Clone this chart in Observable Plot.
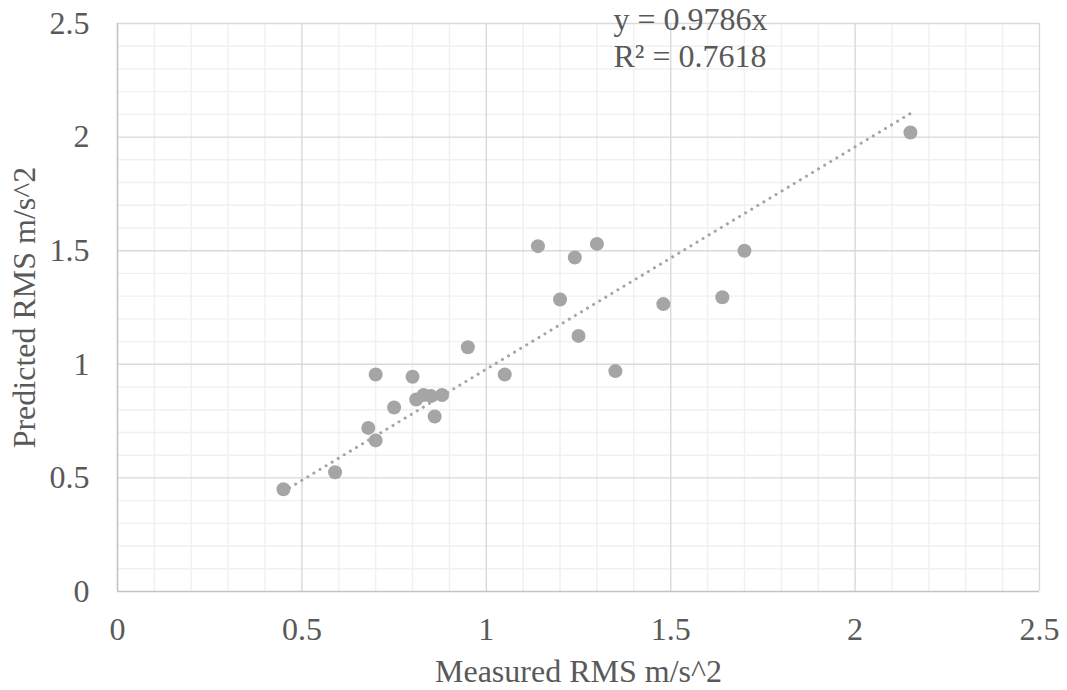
<!DOCTYPE html>
<html>
<head>
<meta charset="utf-8">
<script src="https://cdn.jsdelivr.net/npm/d3@7"></script>
<script src="https://cdn.jsdelivr.net/npm/@observablehq/plot@0.6"></script>
<style>
  html, body { margin: 0; padding: 0; background: #fff; }
  #chart { width: 1067px; height: 690px; }
  #chart svg text { font-family: 'Liberation Serif', 'Times New Roman', serif !important; font-variant-numeric: normal !important; }
</style>
</head>
<body>
<div id="chart"></div>
<script>
// Data
const measured  = [0.45, 0.59, 0.68, 0.70, 0.70, 0.75, 0.80, 0.81, 0.83, 0.85, 0.88, 0.86, 0.95, 1.05, 1.14, 1.20, 1.24, 1.25, 1.30, 1.35, 1.48, 1.64, 1.70, 2.15];
const predicted = [0.45, 0.525, 0.72, 0.665, 0.955, 0.81, 0.945, 0.845, 0.865, 0.86, 0.865, 0.77, 1.075, 0.955, 1.52, 1.285, 1.47, 1.125, 1.53, 0.97, 1.265, 1.295, 1.50, 2.02];
const slope = 0.9786;
const r2 = 0.7618;
const majorTicks = [0, 0.5, 1, 1.5, 2, 2.5];
const minorTicks = [0.1,0.2,0.3,0.4,0.6,0.7,0.8,0.9,1.1,1.2,1.3,1.4,1.6,1.7,1.8,1.9,2.1,2.2,2.3,2.4];
const xTitle = "Measured RMS m/s^2";
const yTitle = "Predicted RMS m/s^2";

const points = measured.map((x, i) => ({x, y: predicted[i]}));
const xMin = d3.min(measured), xMax = d3.max(measured);
const trend = [{x: xMin, y: slope * xMin}, {x: xMax, y: slope * xMax}];
const eqText = `y = ${slope}x\nR² = ${r2}`;

const font = "'Liberation Serif', 'Times New Roman', serif";
const textColor = "#595959";
const fs = 32;

const chart = Plot.plot({
  width: 1067,
  height: 690,
  marginLeft: 117,
  marginRight: 28,
  marginTop: 23,
  marginBottom: 99,
  style: {fontFamily: font, fontSize: fs + "px", color: textColor, background: "#fff", overflow: "visible"},
  x: {domain: [0, 2.5]},
  y: {domain: [0, 2.5]},
  marks: [
    Plot.ruleX(minorTicks, {stroke: "#f0f0f0", strokeWidth: 1.4}),
    Plot.ruleY(minorTicks, {stroke: "#f0f0f0", strokeWidth: 1.4}),
    Plot.ruleX(majorTicks.slice(1), {stroke: "#d9d9d9", strokeWidth: 1.4}),
    Plot.ruleY(majorTicks.slice(1), {stroke: "#d9d9d9", strokeWidth: 1.4}),
    Plot.ruleX([0], {stroke: "#c4c4c4", strokeWidth: 1.6}),
    Plot.ruleY([0], {stroke: "#c4c4c4", strokeWidth: 1.6}),
    Plot.axisX({ticks: majorTicks, tickSize: 0, tickPadding: 26, tickFormat: d => String(d), fontSize: fs, fill: textColor, label: null}),
    Plot.axisY({ticks: majorTicks, tickSize: 0, tickPadding: 28, tickFormat: d => String(d), fontSize: fs, fill: textColor, label: null}),
    Plot.line(trend, {x: "x", y: "y", stroke: "#a5a5a5", strokeWidth: 3, strokeDasharray: "0.1 7", strokeLinecap: "round"}),
    Plot.dot(points, {x: "x", y: "y", r: 7, fill: "#a5a5a5", stroke: "none"}),
    Plot.text([eqText], {frameAnchor: "top-left", dx: 496, dy: -20, lineAnchor: "top", textAnchor: "start", fontSize: fs, fill: textColor, lineHeight: 1.16}),
    Plot.text([xTitle], {frameAnchor: "bottom", dy: 80, lineAnchor: "middle", fontSize: fs, fill: textColor}),
    Plot.text([yTitle], {frameAnchor: "left", dx: -93, rotate: -90, textAnchor: "middle", lineAnchor: "middle", fontSize: fs, fill: textColor})
  ]
});
document.getElementById("chart").appendChild(chart);
</script>
</body>
</html>
